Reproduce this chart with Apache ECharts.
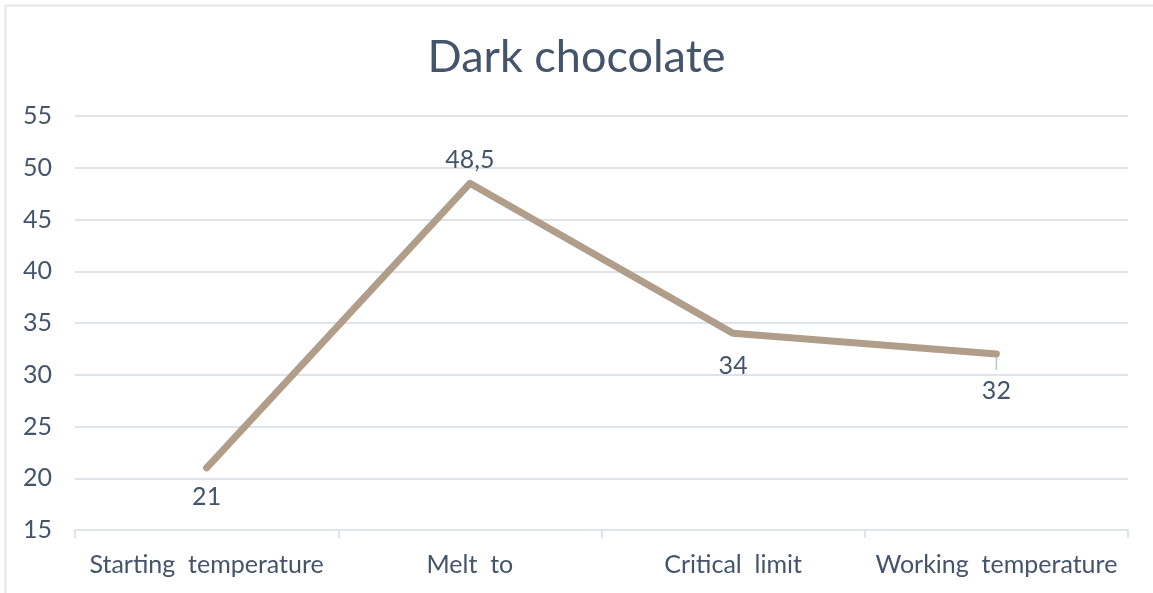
<!DOCTYPE html>
<html>
<head>
<meta charset="utf-8">
<script src="https://cdn.jsdelivr.net/npm/echarts@6/dist/echarts.min.js"></script>
<style>
  html, body { margin: 0; padding: 0; background: #ffffff; }
  #chart { width: 1153px; height: 593px; }
</style>
</head>
<body>
<div id="chart"></div>
<script>
// Tempering steps for dark chocolate (°C)
const categories = ['Starting  temperature', 'Melt  to', 'Critical  limit', 'Working  temperature'];
const temperatures = [21, 48.5, 34, 32];
const labelSides = ['bottom', 'top', 'bottom', 'bottom'];
const labelGaps = [16, 10, 20, 24];

const textColor = '#44546a';
const gridColor = '#dfe3ea';
const lineColor = '#b09d8a';
const fontFamily = 'Lato, "Open Sans", sans-serif';

const chart = echarts.init(document.getElementById('chart'), null, { renderer: 'canvas' });

chart.setOption({
  animation: false,
  backgroundColor: '#ffffff',
  title: {
    text: 'Dark chocolate',
    left: 'center',
    top: 30,
    textStyle: { color: textColor, fontSize: 45, fontWeight: 'normal', fontFamily: fontFamily }
  },
  graphic: [
    { type: 'line', shape: { x1: 5, y1: 5.5, x2: 1153, y2: 5.5 }, style: { stroke: '#e3e6eb', lineWidth: 2 } },
    { type: 'line', shape: { x1: 5.5, y1: 5, x2: 5.5, y2: 593 }, style: { stroke: '#e3e6eb', lineWidth: 2 } }
  ],
  grid: { left: 75, right: 25, top: 116, bottom: 63, containLabel: false },
  xAxis: {
    type: 'category',
    data: categories,
    boundaryGap: true,
    axisLine: { show: true, lineStyle: { color: gridColor, width: 2 } },
    axisTick: { show: true, length: 8, interval: 0, lineStyle: { color: gridColor, width: 2 } },
    axisLabel: { color: textColor, fontSize: 25, fontFamily: fontFamily, margin: 22, interval: 0 },
    splitLine: { show: false }
  },
  yAxis: {
    type: 'value',
    min: 15,
    max: 55,
    interval: 5,
    axisLine: { show: false },
    axisTick: { show: false },
    axisLabel: { color: textColor, fontSize: 25, fontFamily: fontFamily, margin: 23, align: 'right' },
    splitLine: { show: true, lineStyle: { color: gridColor, width: 2 } }
  },
  series: [{
    type: 'line',
    data: temperatures.map((v, i) => ({
      value: v,
      label: { position: labelSides[i], distance: labelGaps[i] }
    })),
    symbol: 'circle',
    symbolSize: 1,
    showSymbol: true,
    itemStyle: { color: lineColor },
    lineStyle: { color: lineColor, width: 7, cap: 'round', join: 'round' },
    label: {
      show: true,
      color: textColor,
      fontSize: 25,
      fontFamily: fontFamily,
      formatter: p => String(p.value).replace('.', ',')
    }
  }, {
    // short leader under the last data label
    type: 'scatter',
    data: [[3, 32]],
    symbol: 'rect',
    symbolSize: [1.5, 14],
    symbolOffset: [0, 9],
    itemStyle: { color: '#a9b4c4' },
    z: 1
  }]
});
</script>
</body>
</html>
